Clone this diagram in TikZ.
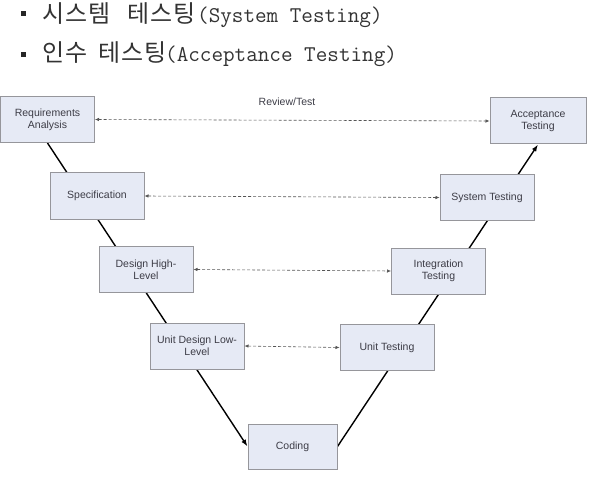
\documentclass[tikz,border=0pt]{standalone}
\usepackage{fontspec}
\setmainfont{Liberation Sans}
\newfontfamily\krfont[LetterSpace=5]{Noto Sans CJK KR}
\usetikzlibrary{arrows.meta,backgrounds}

% Korean word set in a box of fixed width
\newcommand{\krword}[2]{\makebox[#1][l]{\fontsize{24}{26}\selectfont\krfont #2}}

\begin{document}
\begin{tikzpicture}[x=1pt,y=-1pt,>=Latex,
  phase/.style={draw=boxline,fill=boxfill,line width=1pt,minimum width=94pt,
    minimum height=46pt,align=center,font=\fontsize{10.5}{12}\selectfont,text=boxtext},
  vline/.style={line width=1.4pt,-{Latex[length=7pt,width=5pt]}},
  review/.style={densely dashed,draw=reviewgray,line width=0.6pt,
    {Latex[length=4pt,width=3.5pt]}-{Latex[length=4pt,width=3.5pt]}},
  bulletline/.style={anchor=base west,inner sep=0pt,text=black!80,
    font=\fontsize{22.5}{24}\selectfont\ttfamily},
  bulletmark/.style={fill=black!85,inner sep=0pt,minimum size=5pt}]
\definecolor{boxfill}{RGB}{230,234,245}
\definecolor{boxline}{RGB}{150,150,155}
\definecolor{boxtext}{RGB}{60,60,70}
\definecolor{reviewgray}{RGB}{85,85,85}
\useasboundingbox (0,0) rectangle (590,487);

% Bullet list above the diagram.
\node[bulletmark] (mark1) at (23.5,13.5) {};
\node[bulletline] (item1) at (42,23)
  {\krword{85pt}{시스템}\krword{70pt}{테스팅}(System Testing)};
\node[bulletmark] (mark2) at (23.5,55) {};
\node[bulletline] (item2) at (42,62)
  {\krword{56pt}{인수}\krword{67pt}{테스팅}(Acceptance Testing)};

% Left arm of the V.
\node[phase] (req) at (47.5,119.5) {Requirements\\Analysis};
\node[phase] (spec) at (97,196) {Specification};
\node[phase] (design) at (146,269.5) {Design High-\\Level};
\node[phase] (unitdesign) at (197,346) {Unit Design Low-\\Level};

% Bottom.
\node[phase,minimum width=89pt,minimum height=45pt] (coding) at (292.5,446.5) {Coding};

% Right arm of the V.
\node[phase] (unittest) at (387,347.5) {Unit Testing};
\node[phase] (integ) at (438.5,271) {Integration\\Testing};
\node[phase] (systest) at (487,197.5) {System Testing};
\node[phase,minimum width=96pt] (accept) at (538,121) {Acceptance\\Testing};

\node[font=\fontsize{10.5}{12}\selectfont,text=boxtext] (revlabel) at (287,102) {Review/Test};

% The V runs behind the boxes.
\begin{scope}[on background layer]
  \draw[vline] (req.south) -- (coding.west);
  \draw[vline] (coding.east) -- (accept.south);
\end{scope}

% Review/Test links between matching levels.
\draw[review] (req.east) -- (accept.west);
\draw[review] (spec.east) -- (systest.west);
\draw[review] (design.east) -- (integ.west);
\draw[review] (unitdesign.east) -- (unittest.west);
\end{tikzpicture}
\end{document}
